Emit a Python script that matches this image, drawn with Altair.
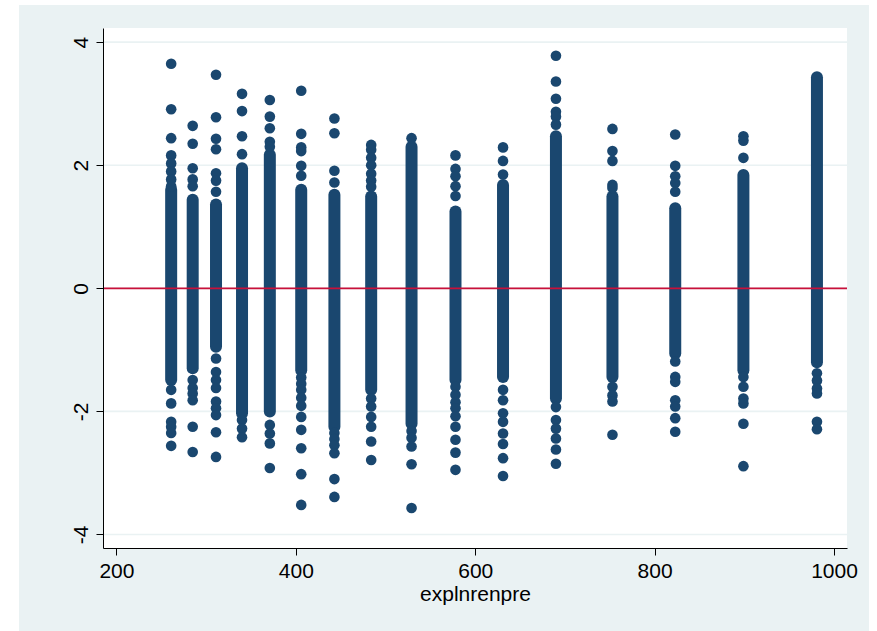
import altair as alt
import pandas as pd

# ---------------- data ----------------
col_x = [261, 285, 311, 340, 371, 406, 443, 484, 529, 578, 631, 690, 753, 823, 899, 981]
dense_hi = [1.60, 1.44, 1.36, 1.95, 2.17, 1.60, 1.52, 1.49, 2.30, 1.25, 1.68, 2.47, 1.49, 1.30, 1.84, 3.43]
dense_lo = [-1.49, -1.30, -0.95, -2.03, -2.00, -1.33, -2.25, -1.65, -2.20, -1.49, -1.44, -1.79, -1.44, -1.06, -1.33, -1.20]

outlier_y = [
    [3.65, 2.91, 2.44, 2.16, 2.03, 1.90, 1.77, 1.66, -1.65, -1.87, -2.17, -2.25, -2.35, -2.56],
    [2.64, 2.35, 1.95, 1.77, 1.66, -1.49, -1.62, -1.71, -1.82, -2.25, -2.66],
    [3.47, 2.78, 2.43, 2.26, 1.87, 1.75, 1.57, -1.14, -1.36, -1.49, -1.62, -1.84, -1.95, -2.06, -2.34, -2.74],
    [3.16, 2.88, 2.47, 2.18, -2.14, -2.28, -2.42],
    [3.06, 2.79, 2.60, 2.38, 2.30, -2.22, -2.36, -2.52, -2.92],
    [3.21, 2.51, 2.29, 2.23, 1.99, 1.83, -1.45, -1.55, -1.65, -1.78, -1.91, -2.09, -2.30, -2.60, -3.02, -3.52],
    [2.76, 2.52, 1.91, 1.72, -2.35, -2.45, -2.55, -2.68, -3.10, -3.39],
    [2.33, 2.25, 2.12, 2.00, 1.86, 1.75, 1.65, -1.79, -1.92, -2.09, -2.25, -2.49, -2.79],
    [2.44, -2.32, -2.43, -2.57, -2.86, -3.57],
    [2.16, 1.94, 1.82, 1.66, 1.50, -1.60, -1.73, -1.85, -1.95, -2.08, -2.25, -2.46, -2.67, -2.95],
    [2.29, 2.07, 1.85, -1.65, -1.82, -2.03, -2.17, -2.36, -2.53, -2.76, -3.05],
    [3.78, 3.36, 3.08, 2.87, 2.79, 2.66, -1.93, -2.14, -2.28, -2.44, -2.62, -2.85],
    [2.59, 2.23, 2.07, 1.68, 1.63, -1.60, -1.74, -1.84, -2.38],
    [2.50, 1.99, 1.82, 1.71, 1.57, -1.19, -1.44, -1.52, -1.82, -1.92, -2.11, -2.33],
    [2.47, 2.40, 2.12, -1.44, -1.60, -1.79, -1.87, -2.20, -2.89],
    [-1.38, -1.50, -1.63, -1.71, -2.17, -2.29],
]

x_ticks = [200, 400, 600, 800, 1000]
y_ticks = [-4, -2, 0, 2, 4]
ref_line = [0]
x_title = "explnrenpre"

# ---------------- tables ----------------
dense_df = pd.DataFrame({"x": col_x, "y": dense_lo, "y2": dense_hi})
pts_x, pts_y = [], []
for cx, ys_ in zip(col_x, outlier_y):
    for v in ys_:
        pts_x.append(cx)
        pts_y.append(v)
pts_df = pd.DataFrame({"x": pts_x, "y": pts_y})
grid_df = pd.DataFrame({"y": y_ticks})
ref_df = pd.DataFrame({"y": ref_line})
one = pd.DataFrame({"k": [0]})

# ---------------- style ----------------
FONT = "Liberation Sans"
LIGHT = "#EAF2F3"
NAVY = "#1A476F"
RED = "#C8103A"
W, H = 744, 520
DIAM = 12

xs = alt.Scale(domain=[185, 1014.5], nice=False, zero=False)
ys = alt.Scale(domain=[-4.22, 4.23], nice=False, zero=False)

xaxis = alt.Axis(
    title=x_title, values=x_ticks, format="d", grid=False, zindex=1,
    domainColor="black", domainWidth=1, tickColor="black", tickSize=7, tickWidth=1,
    labelFont=FONT, labelFontSize=21, labelColor="black", labelPadding=5, labelFlush=False,
    titleFont=FONT, titleFontSize=21, titleFontWeight="normal", titleColor="black", titlePadding=2,
)
yaxis = alt.Axis(
    title=None, values=y_ticks, grid=False, zindex=1,
    domainColor="black", domainWidth=1, tickColor="black", tickSize=7, tickWidth=1,
    labelFont=FONT, labelFontSize=21, labelColor="black", labelPadding=9,
    labelAngle=270, labelAlign="center", labelBaseline="alphabetic", labelFlush=False,
    labelExpr="replace(datum.label, '\u2212', '-')",
)

bg = alt.Chart(one).mark_rect(color=LIGHT).encode(
    x=alt.value(-84), x2=alt.value(766), y=alt.value(-23), y2=alt.value(615)
)
white = alt.Chart(one).mark_rect(color="white").encode(
    x=alt.value(0), x2=alt.value(W), y=alt.value(0), y2=alt.value(H)
)
grid = alt.Chart(grid_df).mark_rule(color=LIGHT, strokeWidth=1.6).encode(
    y=alt.Y("y:Q", scale=ys, axis=yaxis)
)
dense = alt.Chart(dense_df).mark_rule(color=NAVY, strokeWidth=DIAM, strokeCap="round").encode(
    x=alt.X("x:Q", scale=xs, axis=xaxis),
    y=alt.Y("y:Q", scale=ys, axis=yaxis),
    y2="y2:Q",
)
points = alt.Chart(pts_df).mark_circle(color=NAVY, opacity=1, size=3.1416 * (DIAM / 2) ** 2).encode(
    x=alt.X("x:Q", scale=xs, axis=xaxis),
    y=alt.Y("y:Q", scale=ys, axis=yaxis),
)
ref = alt.Chart(ref_df).mark_rule(color=RED, strokeWidth=1.8).encode(
    y=alt.Y("y:Q", scale=ys, axis=yaxis)
)

chart = alt.layer(bg, white, grid, dense, points, ref).properties(
    width=W, height=H,
    autosize=alt.AutoSizeParams(type="none"),
    padding={"left": 103, "top": 28, "right": 30, "bottom": 83},
    background="white",
).configure_view(stroke=None)

chart.save("out.html", embed_options={"renderer": "svg", "actions": False})
